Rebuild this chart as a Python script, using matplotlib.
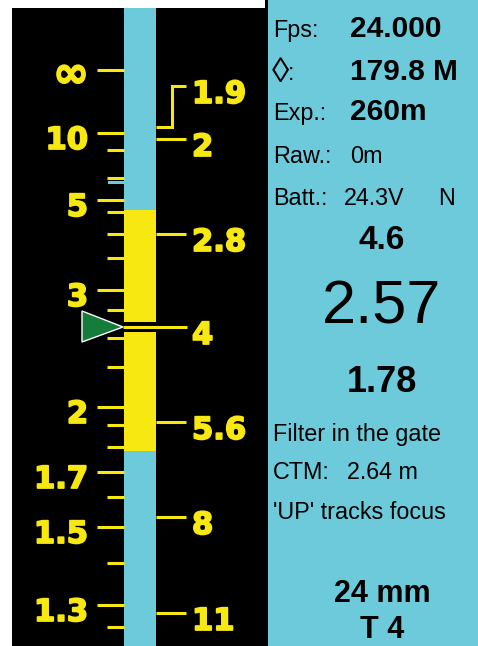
import matplotlib
matplotlib.use("Agg")
import matplotlib.pyplot as plt
from matplotlib.patches import Rectangle, Polygon
import matplotlib.patheffects as pe

# ---------------- data ----------------
dist_labels = ['∞', '10', '5', '3', '2', '1.7', '1.5', '1.3']
dist_major_y = [70, 133, 200, 290, 407, 472, 527, 605]
dist_minor_y = [150, 178, 212, 234, 258, 310, 338, 367, 425, 447, 497, 563, 627]
tstop_labels = ['1.9', '2', '2.8', '4', '5.6', '8', '11']
tstop_y = [127, 139, 234, 327, 422, 517, 613]
tstop_label_y = [86, 139, 234, 327, 422, 517, 613]
dof_far_y = 210      # top of depth-of-field bar
dof_near_y = 451     # bottom of depth-of-field bar
focus_y = 327        # current focus mark

info_labels = ['Fps:', ':', 'Exp.:']
info_values = ['24.000', '179.8 M', '260m']
plain_labels = ['Raw.:', 'Batt.:']
plain_values = ['0m', '24.3V']
batt_flag = 'N'
shutter_icon = '◊'
far_limit = '4.6'
focus_dist = '2.57'
near_limit = '1.78'
ctm_label = 'CTM:'
ctm_value = '2.64 m'
messages = ['Filter in the gate', "'UP' tracks focus"]
lens_focal = '24 mm'
lens_tstop = 'T 4'

# ---------------- style ----------------
CYAN = '#6CCADB'
YELLOW = '#F7E811'
GREEN = '#147D3C'
W, H = 478, 646

fig = plt.figure(figsize=(W / 100, H / 100), dpi=100)
fig.patch.set_facecolor('white')
ax = fig.add_axes([0, 0, 1, 1])
ax.set_xlim(0, W)
ax.set_ylim(H, 0)
ax.axis('off')

# panels
ax.add_patch(Rectangle((12, 8), 256, H - 8, color='black', lw=0))
ax.add_patch(Rectangle((268, 0), W - 268, H, color=CYAN, lw=0))
ax.add_patch(Rectangle((265, 0), 3, H, color='black', lw=0))

# scale strip
sx0, sx1 = 124, 156
ax.add_patch(Rectangle((sx0, 8), sx1 - sx0, H - 8, color=CYAN, lw=0))
ax.add_patch(Rectangle((sx0, dof_far_y), sx1 - sx0, dof_near_y - dof_far_y, color=YELLOW, lw=0))
ax.add_patch(Rectangle((sx0, focus_y - 5), sx1 - sx0, 10, color='black', lw=0))

lw = 2.2
thick = [pe.withStroke(linewidth=1.3, foreground=YELLOW)]
yfont = dict(family=['DejaVu Sans'], weight='bold', color=YELLOW, path_effects=thick)

# distance ticks
for y in dist_major_y:
    ax.plot([97, sx0], [y, y], color=YELLOW, lw=lw, solid_capstyle='butt')
for y in dist_minor_y:
    ax.plot([107, sx0], [y, y], color=YELLOW, lw=lw, solid_capstyle='butt')
ax.add_patch(Rectangle((108, 181), sx0 - 108, 3, color=CYAN, lw=0))

for lab, y in zip(dist_labels, dist_major_y):
    if lab == '∞':
        ax.text(89, y + 5, lab, ha='right', va='center', fontsize=31, **yfont)
    else:
        ax.text(88, y + 16, lab, ha='right', va='baseline', fontsize=22, **yfont)

# T-stop ticks
for lab, y, ly in zip(tstop_labels, tstop_y, tstop_label_y):
    if y != ly:
        ax.plot([sx1, 172, 172, 186], [y, y, ly, ly], color=YELLOW, lw=lw,
                solid_capstyle='butt', solid_joinstyle='miter')
    elif y == focus_y:
        ax.plot([sx0 - 1, 187], [y, y], color=YELLOW, lw=lw, solid_capstyle='butt')
    else:
        ax.plot([sx1, 186], [y, y], color=YELLOW, lw=lw, solid_capstyle='butt')
    ax.text(192, ly + 17, lab, ha='left', va='baseline', fontsize=22, **yfont)

# focus pointer
ax.add_patch(Polygon([(82, focus_y - 16), (82, focus_y + 15), (123, focus_y)],
                     closed=True, facecolor=GREEN, edgecolor='white', lw=1.0))

# ---------------- info panel ----------------
reg = dict(family=['Liberation Sans', 'DejaVu Sans'], color='black')
small = 16.8
row_base = [37, 80, 120]
for lab, val, yb in zip(info_labels, info_values, row_base):
    if lab == ':':
        ax.text(272, yb + 2, shutter_icon, ha='left', va='baseline', fontsize=25, **reg)
        ax.text(288, yb, lab, ha='left', va='baseline', fontsize=small, **reg)
    else:
        ax.text(273, yb, lab, ha='left', va='baseline', fontsize=small, **reg)
    ax.text(350, yb, val, ha='left', va='baseline', fontsize=21.5, weight='bold', **reg)

for lab, val, yb, vx in zip(plain_labels, plain_values, [163, 205], [350, 344]):
    ax.text(273, yb, lab, ha='left', va='baseline', fontsize=small, **reg)
    ax.text(vx, yb, val, ha='left', va='baseline', fontsize=small, **reg)
ax.text(438, 205, batt_flag, ha='left', va='baseline', fontsize=small, **reg)

cx = 382
ax.text(cx, 249, far_limit, ha='center', va='baseline', fontsize=24, weight='bold', **reg)
ax.text(cx, 323, focus_dist, ha='center', va='baseline', fontsize=44, **reg)
ax.text(cx, 392, near_limit, ha='center', va='baseline', fontsize=26, weight='bold', **reg)

ax.text(273, 441, messages[0], ha='left', va='baseline', fontsize=small, **reg)
ax.text(273, 479, ctm_label, ha='left', va='baseline', fontsize=small, **reg)
ax.text(347, 479, ctm_value, ha='left', va='baseline', fontsize=small, **reg)
ax.text(273, 519, messages[1], ha='left', va='baseline', fontsize=small, **reg)

ax.text(cx, 602, lens_focal, ha='center', va='baseline', fontsize=22, weight='bold', **reg)
ax.text(cx, 638, lens_tstop, ha='center', va='baseline', fontsize=22, weight='bold', **reg)

fig.savefig('out.png', dpi=100, facecolor='white')
